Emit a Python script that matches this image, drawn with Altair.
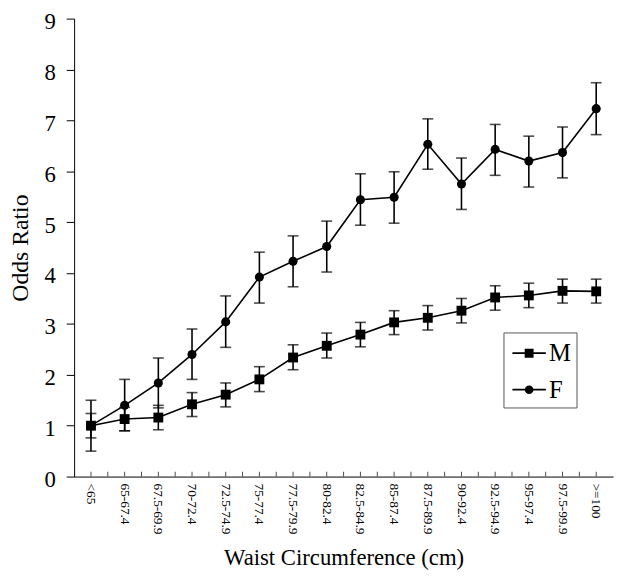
import altair as alt
import pandas as pd

categories = ["<65", "65-67.4", "67.5-69.9", "70-72.4", "72.5-74.9", "75-77.4",
              "77.5-79.9", "80-82.4", "82.5-84.9", "85-87.4", "87.5-89.9",
              "90-92.4", "92.5-94.9", "95-97.4", "97.5-99.9", ">=100"]

m_or = [1.00, 1.13, 1.16, 1.42, 1.61, 1.91, 2.34, 2.57, 2.79, 3.03, 3.12, 3.26, 3.52, 3.56, 3.65, 3.64]
m_lo = [0.76, 0.90, 0.92, 1.18, 1.37, 1.67, 2.10, 2.33, 2.55, 2.79, 2.88, 3.02, 3.27, 3.32, 3.41, 3.41]
m_hi = [1.24, 1.36, 1.40, 1.65, 1.84, 2.16, 2.59, 2.82, 3.03, 3.26, 3.36, 3.50, 3.75, 3.80, 3.88, 3.88]

f_or = [1.00, 1.40, 1.84, 2.40, 3.04, 3.92, 4.23, 4.52, 5.44, 5.49, 6.53, 5.75, 6.43, 6.20, 6.37, 7.23]
f_lo = [0.50, 0.90, 1.35, 1.91, 2.54, 3.41, 3.73, 4.02, 4.94, 4.98, 6.04, 5.25, 5.92, 5.69, 5.87, 6.72]
f_hi = [1.50, 1.91, 2.33, 2.90, 3.55, 4.41, 4.73, 5.02, 5.95, 5.99, 7.03, 6.26, 6.92, 6.69, 6.87, 7.74]

series = ["M", "F"]

rows = []
for name, v, lo, hi in [("M", m_or, m_lo, m_hi), ("F", f_or, f_lo, f_hi)]:
    for i, c in enumerate(categories):
        rows.append({"idx": i, "cat": c, "sex": name, "or": v[i], "lo": lo[i], "hi": hi[i]})
df = pd.DataFrame(rows)

tick_vals = [i * 0.5 for i in range(0, 2 * len(categories) - 1)]
ticks_df = pd.DataFrame({"idx": tick_vals, "zero": [0] * len(tick_vals)})
cat_df = pd.DataFrame({"idx": list(range(len(categories))), "cat": categories,
                       "zero": [0] * len(categories)})

FONT = "Liberation Serif"

x_scale = alt.Scale(domain=[-0.5, len(categories) - 0.5], nice=False, zero=False)
x_axis = alt.Axis(
    values=list(range(len(categories))), labels=False,
    ticks=False, domainColor="black", grid=False,
    title="Waist Circumference (cm)", titleFont=FONT, titleFontSize=23,
    titleFontWeight="normal", titleColor="black",
    titleY=89, titleBaseline="alphabetic",
)
y_scale = alt.Scale(domain=[0, 9], nice=False)
y_axis = alt.Axis(
    values=list(range(0, 10)), labelFont=FONT, labelFontSize=23, labelColor="black",
    labelPadding=11, labelOffset=3, tickSize=8, tickColor="black", domainColor="black",
    grid=False,
    title="Odds Ratio", titleFont=FONT, titleFontSize=24, titleFontWeight="normal",
    titleColor="black", titlePadding=12,
)

base = alt.Chart(df)

rules = base.mark_rule(color="black", strokeWidth=1.6).encode(
    x=alt.X("idx:Q", scale=x_scale, axis=x_axis),
    y=alt.Y("lo:Q", scale=y_scale, axis=y_axis), y2="hi:Q"
)
caps_lo = base.mark_tick(color="black", orient="horizontal", size=11, thickness=1.6).encode(
    x="idx:Q", y="lo:Q"
)
caps_hi = base.mark_tick(color="black", orient="horizontal", size=11, thickness=1.6).encode(
    x="idx:Q", y="hi:Q"
)
lines = base.mark_line(color="black", strokeWidth=1.6).encode(
    x="idx:Q", y="or:Q", detail="sex:N"
)
pts_m = base.transform_filter("datum.sex == 'M'").mark_point(
    filled=True, color="black", opacity=1, shape="square", size=100
).encode(x="idx:Q", y="or:Q")
pts_f = base.transform_filter("datum.sex == 'F'").mark_point(
    filled=True, color="black", opacity=1, shape="circle", size=85
).encode(x="idx:Q", y="or:Q")

axis_ticks = alt.Chart(ticks_df).mark_tick(
    color="black", orient="vertical", size=5, thickness=1, yOffset=-2.5
).encode(x="idx:Q", y="zero:Q")

x_labels = alt.Chart(cat_df).mark_text(
    angle=90, align="left", baseline="middle", font=FONT, fontSize=13.5,
    color="black", yOffset=7
).encode(x="idx:Q", y="zero:Q", text="cat:N")

bar = "M-1.13,-0.06H1.13V0.06H-1.13Z"
sq_path = bar + "M-0.3,-0.3H0.3V0.3H-0.3Z"
ci_path = bar + "M0.29,0A0.29,0.29 0 1 1 -0.29,0A0.29,0.29 0 1 1 0.29,0Z"

legend_layer = base.transform_filter("false").mark_point(
    filled=True, color="black", opacity=1
).encode(
    x="idx:Q", y="or:Q",
    shape=alt.Shape(
        "sex:N",
        scale=alt.Scale(domain=series, range=[sq_path, ci_path]),
        legend=alt.Legend(
            title=None, orient="none", legendX=435, legendY=318,
            labelFont=FONT, labelFontSize=25, labelColor="black", labelOffset=4,
            symbolSize=900, symbolOffset=5, rowPadding=8, padding=5,
            symbolFillColor="black", symbolOpacity=1,
            strokeColor="#555555", fillColor="white",
        ),
    ),
)

chart = alt.layer(rules, caps_lo, caps_hi, lines, pts_m, pts_f, axis_ticks, x_labels,
                  legend_layer).properties(
    width=546, height=464,
    autosize=alt.AutoSizeParams(type="none"),
    padding={"left": 67, "top": 7, "right": 3, "bottom": 98},
    background="white",
).configure_view(stroke=None)

chart.save("out.html", embed_options={"renderer": "svg", "actions": False})
